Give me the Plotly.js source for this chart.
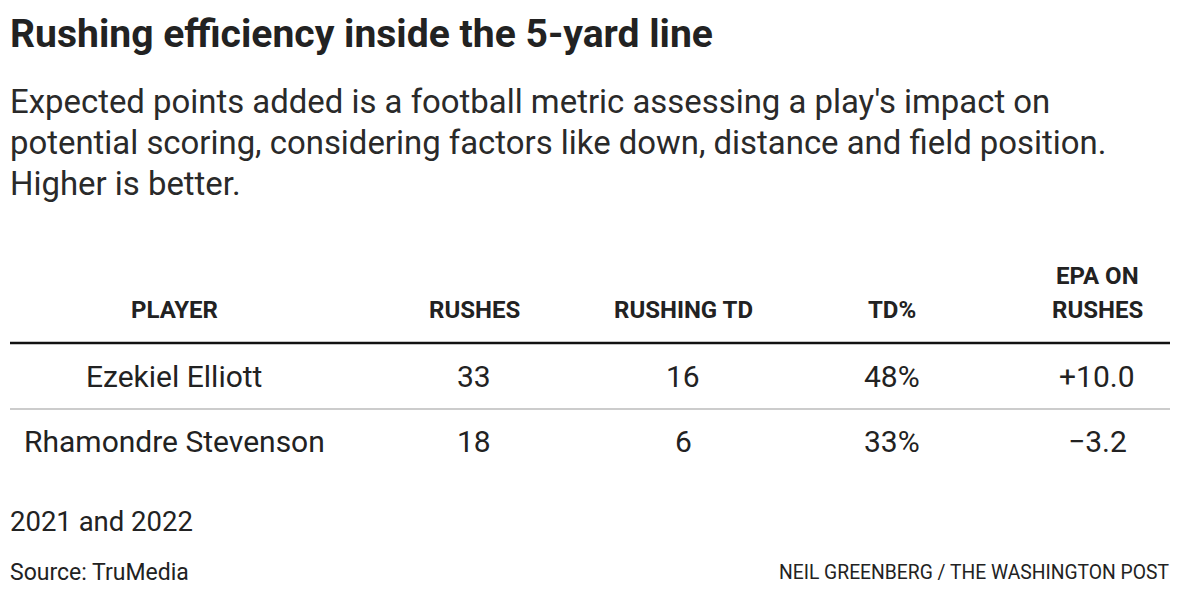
<!DOCTYPE html>
<html>
<head>
<meta charset="utf-8">
<script src="https://cdn.plot.ly/plotly-3.0.1.min.js"></script>
<style>
html,body{margin:0;padding:0;background:#fff;}
#chart{width:1180px;height:598px;}
</style>
</head>
<body>
<div id="chart"></div>
<script>
// ---- data ----
const headers = ["PLAYER", "RUSHES", "RUSHING TD", "TD%", "EPA ON<br>RUSHES"];
const players = ["Ezekiel Elliott", "Rhamondre Stevenson"];
const rushes = [33, 18];
const rushingTD = [16, 6];
const tdPct = ["48%", "33%"];
const epa = ["+10.0", "\u22123.2"];

const titleText = "Rushing efficiency inside the 5-yard line";
const subtitleLines = [
  "Expected points added is a football metric assessing a play's impact on",
  "potential scoring, considering factors like down, distance and field position.",
  "Higher is better."
];
const noteText = "2021 and 2022";
const sourceText = "Source: TruMedia";
const creditText = "NEIL GREENBERG / THE WASHINGTON POST";

// ---- layout helpers ----
const W = 1180, H = 598;
const fx = px => px / W;
const fy = py => 1 - py / H;
const FONT = "Roboto, 'Liberation Sans', sans-serif";
const DARK = "#222222";

const colX = [174, 474, 683, 892, 1097];
const rowY = [376, 441];
const headerLastY = 310;
const headerLineGap = 34;

const annotations = [];
function addText(text, x, y, size, opts = {}) {
  annotations.push(Object.assign({
    text: text, x: fx(x), y: fy(y), xref: "paper", yref: "paper",
    showarrow: false, xanchor: "left", yanchor: "middle",
    font: {family: FONT, size: size, color: DARK}
  }, opts));
}

addText("<b>" + titleText + "</b>", 8, 34, 39.1);
subtitleLines.forEach((l, i) => addText(l, 8, 101 + i * 41, 32.9, {font: {family: FONT, size: 32.9, color: "#2a2a2a"}}));

// header (each line placed separately)
headers.forEach((h, i) => {
  const lines = h.split("<br>");
  lines.forEach((ln, j) => {
    const y = headerLastY - (lines.length - 1 - j) * headerLineGap;
    annotations.push({
      text: "<b>" + ln + "</b>", x: fx(colX[i]), y: fy(y), xref: "paper", yref: "paper",
      showarrow: false, xanchor: "center", yanchor: "middle",
      font: {family: FONT, size: 24, color: DARK}
    });
  });
});

// body rows
const columns = [players, rushes, rushingTD, tdPct, epa];
players.forEach((_, r) => {
  columns.forEach((col, c) => {
    annotations.push({
      text: String(col[r]), x: fx(colX[c]), y: fy(rowY[r]), xref: "paper", yref: "paper",
      showarrow: false, xanchor: "center", yanchor: "middle",
      font: {family: FONT, size: 30, color: DARK}
    });
  });
});

addText(noteText, 8, 521, 27.5);
addText(sourceText, 8, 572, 23);
addText(creditText, 1171, 572, 19.3, {xanchor: "right"});

const shapes = [
  {type: "line", xref: "paper", yref: "paper", x0: fx(10), x1: fx(1170), y0: fy(343), y1: fy(343), line: {color: "#111", width: 2.5}},
  {type: "line", xref: "paper", yref: "paper", x0: fx(10), x1: fx(1170), y0: fy(409), y1: fy(409), line: {color: "#bbbbbb", width: 1.5}}
];

Plotly.newPlot("chart", [], {
  width: W, height: H,
  margin: {l: 0, r: 0, t: 0, b: 0},
  paper_bgcolor: "#fff", plot_bgcolor: "#fff",
  xaxis: {visible: false}, yaxis: {visible: false},
  annotations: annotations, shapes: shapes, showlegend: false
}, {displayModeBar: false, staticPlot: true});
</script>
</body>
</html>
